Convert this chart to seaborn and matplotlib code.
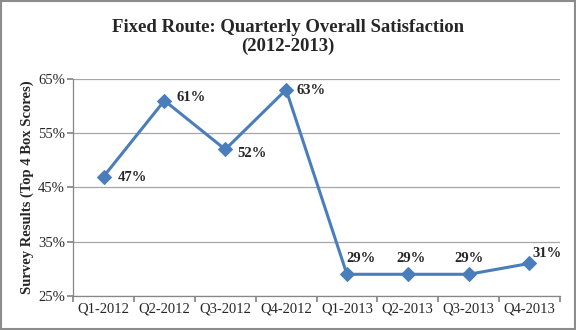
import matplotlib
matplotlib.use("Agg")
import matplotlib.pyplot as plt
import seaborn as sns
import pandas as pd
import numpy as np

quarters = ["Q1-2012", "Q2-2012", "Q3-2012", "Q4-2012", "Q1-2013", "Q2-2013", "Q3-2013", "Q4-2013"]
values = [47, 61, 52, 63, 29, 29, 29, 31]
yticks = [25, 35, 45, 55, 65]

sns.set_theme(style="white")
plt.rcParams['font.family'] = ['Liberation Serif', 'DejaVu Serif']

df = pd.DataFrame({"q": np.arange(len(quarters)), "v": values})

fig = plt.figure(figsize=(5.76, 3.30), dpi=100)
ax = fig.add_axes([0.127, 0.103, 0.845, 0.658])
sns.lineplot(data=df, x="q", y="v", ax=ax, color="#4A7EBB", linewidth=2.2,
             marker="D", markersize=7, markeredgecolor="#4A7EBB")

ax.set_xlim(-0.5, len(quarters) - 0.5)
ax.set_ylim(25, 65)
ax.set_yticks(yticks)
ax.set_yticklabels([f"{t}%" for t in yticks], fontsize=10.5)
ax.yaxis.grid(True, color="#A6A6A6", linewidth=0.9)
ax.set_axisbelow(True)

ax.set_xticks(np.arange(-0.5, len(quarters)), minor=False)
ax.set_xticklabels([])
ax.set_xticks(np.arange(len(quarters)), minor=True)
ax.set_xticklabels(quarters, minor=True, fontsize=10.5)
ax.tick_params(axis="x", which="major", length=4, color="#868686", direction="out", bottom=True)
ax.tick_params(axis="x", which="minor", length=0, pad=5)
ax.tick_params(axis="y", length=4, color="#868686", direction="out", left=True, pad=2)

for s in ["top", "right"]:
    ax.spines[s].set_visible(False)
for s in ["left", "bottom"]:
    ax.spines[s].set_color("#868686")
    ax.spines[s].set_linewidth(0.9)

ax.set_xlabel("")
ax.set_ylabel("Survey Results (Top 4 Box Scores)", fontsize=10.5, fontweight="bold", labelpad=3)

offsets = [(10, -0.7), (8.6, 2), (8.6, -3), (7.2, -0.7), (10, 11.5), (2, 11.5), (0, 11.5), (13, 7)]
aligns = ["left", "left", "left", "left", "center", "center", "center", "center"]
for i, (v, off, ha) in enumerate(zip(values, offsets, aligns)):
    ax.annotate(f"{v}%", (i, v), xytext=off, textcoords="offset points",
                ha=ha, va="center", fontsize=10.5, fontweight="bold")

fig.text(0.5, 0.888, "Fixed Route: Quarterly Overall Satisfaction\n(2012-2013)",
         ha="center", va="center", fontsize=13.5, fontweight="bold", linespacing=1.17)

fig.patches.append(plt.Rectangle((0.002, 0.003), 0.996, 0.994, transform=fig.transFigure,
                                 fill=False, edgecolor="#8C8C8C", linewidth=1.5))

fig.savefig("out.png", dpi=100)
